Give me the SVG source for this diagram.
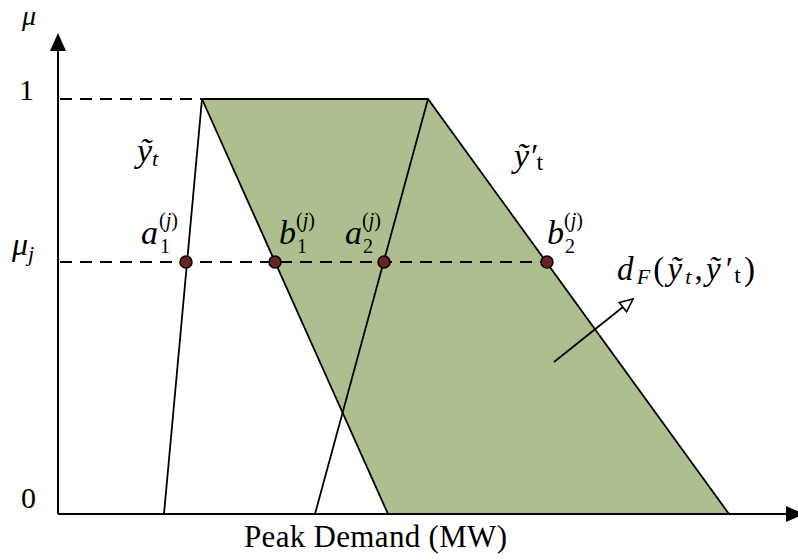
<svg xmlns="http://www.w3.org/2000/svg" width="798" height="560" viewBox="0 0 798 560">
<style>
.ln{stroke:#000;stroke-width:1.8;fill:none}
.ax{stroke:#000;stroke-width:2;fill:none}
.ds{stroke:#000;stroke-width:1.8;fill:none;stroke-dasharray:12 8}
.pt{fill:#6b2222;stroke:#000;stroke-width:1.5}
.m{font-family:"Liberation Serif","DejaVu Serif",serif;font-style:italic;fill:#000}
.u{font-family:"Liberation Serif","DejaVu Serif",serif;font-style:normal;fill:#000}
.sb{font-size:20px}
</style>
<defs>
<marker id="open" markerWidth="16" markerHeight="14" refX="14" refY="7" orient="auto" markerUnits="userSpaceOnUse">
<path d="M1,1 L14,7 L1,13 Z" fill="#fff" stroke="#000" stroke-width="1.6"/>
</marker>
</defs>
<rect width="798" height="560" fill="#fff"/>
<g id="region">
<polygon points="202,99 428,99 729,514 388,514" fill="#aebf8f" stroke="#000" stroke-width="1.8"/>
</g>
<g id="lines">
<line class="ln" x1="202" y1="99" x2="164" y2="514"/>
<line class="ln" x1="428" y1="99" x2="315" y2="514"/>
<line class="ds" x1="60" y1="99" x2="202" y2="99"/>
<line class="ds" x1="60" y1="262" x2="547" y2="262"/>
</g>
<g id="axes">
<line class="ax" x1="58" y1="514" x2="58" y2="46"/>
<polygon points="58,33 50,51 66,51" fill="#000"/>
<line class="ax" x1="58" y1="514" x2="790" y2="514"/>
<polygon points="804,514 786,506 786,522" fill="#000"/>
</g>
<g id="points">
<circle class="pt" cx="186" cy="262" r="6"/>
<circle class="pt" cx="275" cy="262" r="6"/>
<circle class="pt" cx="384" cy="262" r="6"/>
<circle class="pt" cx="547" cy="262" r="6"/>
</g>
<g id="connectors">
<line class="ln" x1="554" y1="362" x2="633" y2="299" marker-end="url(#open)"/>
</g>
<g id="labels">
<text class="m" x="22" y="25" font-size="28">μ</text>
<text class="u" x="19" y="100" font-size="30">1</text>
<text class="u" x="21" y="508" font-size="30">0</text>
<text class="m" x="12" y="255" font-size="32">μ<tspan font-size="22" dy="6">j</tspan></text>
<text class="m" x="137" y="162" font-size="34">ỹ<tspan font-size="22" dy="4">t</tspan></text>
<text class="m" x="514" y="167" font-size="34">ỹ′<tspan class="u" font-style="normal" font-size="24" dy="3">t</tspan></text>
<text class="m" x="141" y="244" font-size="34">a</text>
<text class="u sb" x="160" y="253">1</text>
<text class="u sb" x="159" y="227">(<tspan font-style="italic">j</tspan>)</text>
<text class="m" x="279" y="244" font-size="34">b</text>
<text class="u sb" x="297" y="253">1</text>
<text class="u sb" x="296" y="227">(<tspan font-style="italic">j</tspan>)</text>
<text class="m" x="345" y="244" font-size="34">a</text>
<text class="u sb" x="363" y="253">2</text>
<text class="u sb" x="362" y="227">(<tspan font-style="italic">j</tspan>)</text>
<text class="m" x="547" y="244" font-size="34">b</text>
<text class="u sb" x="565" y="253">2</text>
<text class="u sb" x="564" y="227">(<tspan font-style="italic">j</tspan>)</text>
<text class="m" x="617" y="280" font-size="33" textLength="138" lengthAdjust="spacing">d<tspan font-size="22" dy="4">F</tspan><tspan class="u" font-style="normal" dy="-4">(</tspan>ỹ<tspan font-size="22" dy="4">t</tspan><tspan font-style="normal" dy="-4">,</tspan>ỹ′<tspan font-style="normal" font-size="24" dy="3">t</tspan><tspan font-style="normal" dy="-3">)</tspan></text>
<text class="u" x="244" y="547" font-size="31" textLength="263" lengthAdjust="spacing">Peak Demand (MW)</text>
</g>
</svg>
